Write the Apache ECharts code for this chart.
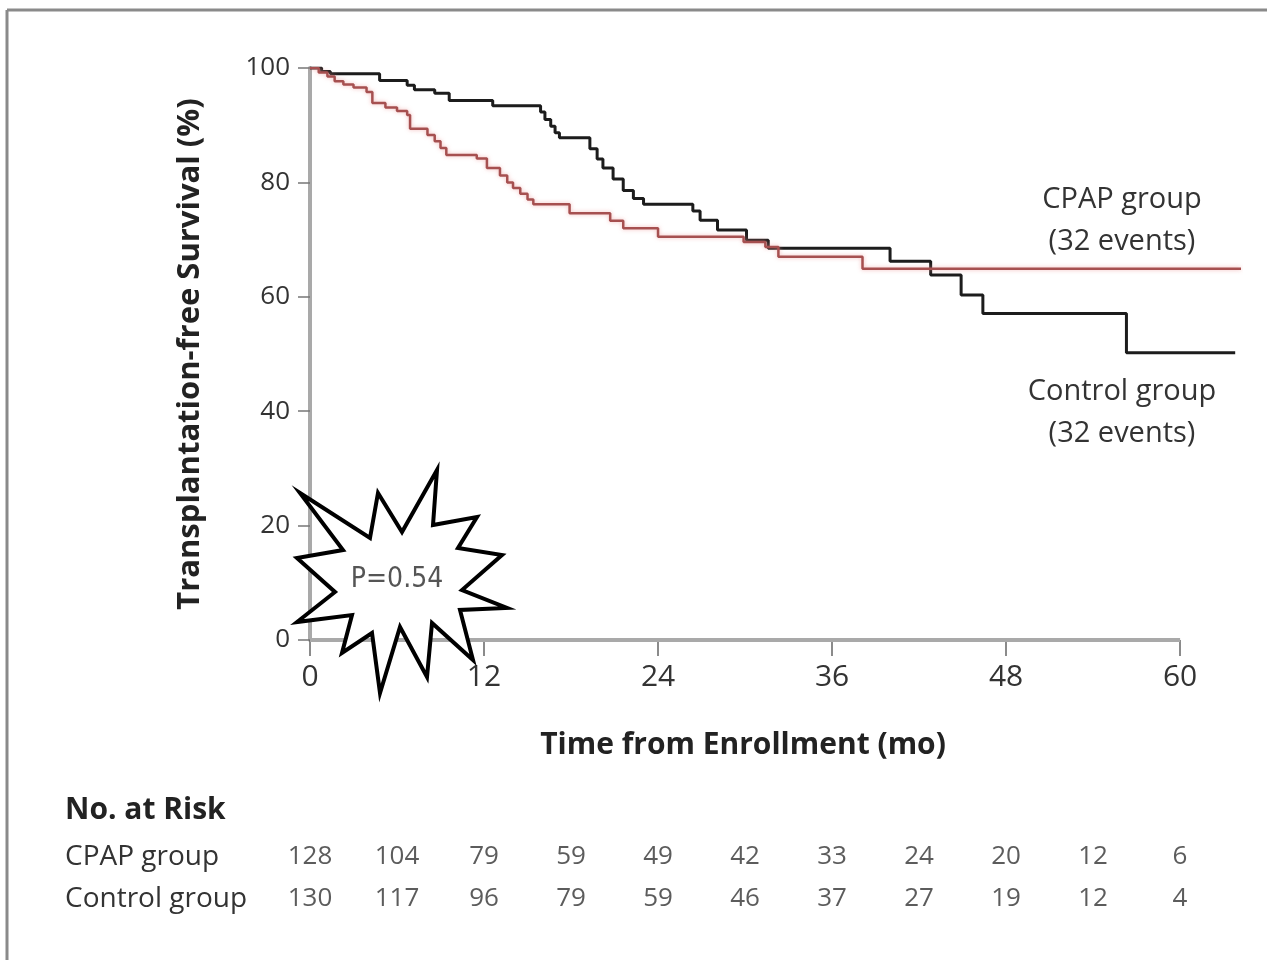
<!DOCTYPE html>
<html>
<head>
<meta charset="utf-8">
<script src="https://cdn.jsdelivr.net/npm/echarts@6/dist/echarts.min.js"></script>
<style>
html,body{margin:0;padding:0;background:#fff;}
#chart{width:1267px;height:960px;}
</style>
</head>
<body>
<div id="chart"></div>
<script>
// ---- data ----
const xTickValues = [0, 12, 24, 36, 48, 60];
const riskMonths = [0, 6, 12, 18, 24, 30, 36, 42, 48, 54, 60];
const riskGroups = ['Control group', 'CPAP group'];
const cpapAtRisk = [128, 104, 79, 59, 49, 42, 33, 24, 20, 12, 6];
const controlAtRisk = [130, 117, 96, 79, 59, 46, 37, 27, 19, 12, 4];

// Kaplan-Meier curves: [month, survival %]
const controlCurve = [
  [0, 100], [0.8, 99.4], [1.4, 99.0], [4.8, 97.8], [6.7, 97.0], [7.2, 96.2], [8.6, 95.6],
  [9.6, 94.3], [12.6, 93.4], [15.9, 92.3], [16.2, 91.0], [16.6, 89.8], [16.9, 88.7],
  [17.2, 87.8], [19.3, 85.9], [19.8, 84.1], [20.2, 82.5], [20.9, 80.6], [21.6, 78.6],
  [22.3, 77.2], [23.0, 76.2], [26.4, 75.0], [26.9, 73.4], [28.1, 71.7], [30.1, 69.9],
  [31.6, 68.5], [40.0, 66.2], [42.8, 63.8], [44.9, 60.3], [46.4, 57.1], [56.3, 50.2],
  [63.8, 50.2]
];
const cpapCurve = [
  [0, 100], [0.6, 99.2], [1.2, 98.5], [1.7, 97.7], [2.3, 97.1], [3.0, 96.6], [3.9, 95.8],
  [4.3, 93.9], [5.2, 93.1], [6.0, 92.5], [6.7, 91.8], [6.9, 89.4], [8.1, 88.3], [8.6, 87.2],
  [9.0, 86.0], [9.4, 84.8], [11.5, 84.2], [12.2, 82.5], [13.1, 81.2], [13.6, 80.0],
  [14.0, 79.0], [14.5, 78.0], [15.0, 77.0], [15.4, 76.2], [17.9, 74.6], [20.7, 73.3],
  [21.6, 72.0], [24.0, 70.5], [29.9, 69.6], [31.4, 68.7], [32.3, 67.0], [38.1, 64.9],
  [64.2, 64.9]
];

// ---- chart ----
const chart = echarts.init(document.getElementById('chart'));
const txt = '#333';
const axisGray = '#a9a9a9';
const font = '"Open Sans", "Noto Sans", sans-serif';

const riskData = [];
riskMonths.forEach((m, i) => {
  riskData.push([m, 'CPAP group', cpapAtRisk[i]]);
  riskData.push([m, 'Control group', controlAtRisk[i]]);
});

const starPts = [
  [300,493],[370,538],[378,493],[402,532],[437,470],[433,525],[477,517],[458,548],
  [502,555],[462,590],[507,608],[460,610],[473,660],[432,623],[427,677],[400,627],
  [380,693],[372,633],[342,653],[352,615],[297,622],[335,592],[297,558],[343,550]
];

chart.setOption({
  backgroundColor: '#fff',
  animation: false,
  grid: [
    { left: 310, right: 26, top: 68, bottom: 320 },
    { left: 310, right: 87, top: 836, height: 84 }
  ],
  xAxis: [
    {
      gridIndex: 0, type: 'value', min: 0, max: 64.2,
      splitLine: { show: false },
      axisLine: { show: false },
      axisTick: { show: true, customValues: xTickValues, length: 16, lineStyle: { color: '#666', width: 1.5 } },
      axisLabel: { customValues: xTickValues, margin: 22, color: txt, fontSize: 30, fontFamily: font }
    },
    {
      gridIndex: 1, type: 'value', min: 0, max: 60, show: false
    }
  ],
  yAxis: [
    {
      gridIndex: 0, type: 'value', min: 0, max: 100, interval: 20,
      splitLine: { show: false },
      axisLine: { show: true, lineStyle: { color: axisGray, width: 4 } },
      axisTick: { show: true, length: 12, lineStyle: { color: '#777', width: 1.5 } },
      axisLabel: { margin: 20, color: txt, fontSize: 26, fontFamily: font }
    },
    {
      gridIndex: 1, type: 'category', data: riskGroups,
      axisLine: { show: false }, axisTick: { show: false }, splitLine: { show: false },
      axisLabel: { margin: 245, align: 'left', color: txt, fontSize: 28, fontFamily: font }
    }
  ],
  series: [
    {
      name: 'Control group', type: 'line', step: 'end', data: controlCurve,
      xAxisIndex: 0, yAxisIndex: 0, showSymbol: false, z: 3,
      lineStyle: { color: '#1c1c1c', width: 3 },
      markLine: {
        silent: true, symbol: ['none', 'none'], z: 1,
        label: { show: false },
        lineStyle: { color: axisGray, width: 4, type: 'solid' },
        data: [[{ coord: [xTickValues[0], 0] }, { coord: [xTickValues[xTickValues.length - 1], 0] }]]
      }
    },
    {
      name: 'CPAP group', type: 'line', step: 'end', data: cpapCurve,
      xAxisIndex: 0, yAxisIndex: 0, showSymbol: false, z: 4,
      lineStyle: { color: '#a65050', width: 2.5, shadowColor: 'rgba(235,140,140,0.6)', shadowBlur: 4 }
    },
    {
      name: 'No. at Risk', type: 'scatter', xAxisIndex: 1, yAxisIndex: 1,
      data: riskData, symbolSize: 1, itemStyle: { color: 'rgba(0,0,0,0)' },
      label: {
        show: true, position: 'inside', color: txt, fontSize: 26, fontFamily: font,
        formatter: p => String(p.value[2])
      }
    }
  ],
  graphic: [
    { type: 'line', shape: { x1: 7, y1: 10, x2: 1267, y2: 10 }, style: { stroke: '#8a8a8a', lineWidth: 3 }, z: 10 },
    { type: 'line', shape: { x1: 7, y1: 10, x2: 7, y2: 960 }, style: { stroke: '#8a8a8a', lineWidth: 3 }, z: 10 },
    { type: 'text', x: 190, y: 354, rotation: Math.PI / 2,
      style: { text: 'Transplantation-free Survival (%)', fill: '#222', font: 'bold 31px ' + font, textAlign: 'center', textVerticalAlign: 'middle' } },
    { type: 'text', x: 743, y: 745,
      style: { text: 'Time from Enrollment (mo)', fill: '#222', font: 'bold 30px ' + font, textAlign: 'center', textVerticalAlign: 'middle' } },
    { type: 'text', x: 65, y: 810,
      style: { text: 'No. at Risk', fill: '#222', font: 'bold 30px ' + font, textAlign: 'left', textVerticalAlign: 'middle' } },
    { type: 'text', x: 1122, y: 221,
      style: { text: 'CPAP group\n(32 events)', fill: txt, font: '29px ' + font, lineHeight: 42, textAlign: 'center', textVerticalAlign: 'middle' } },
    { type: 'text', x: 1122, y: 413,
      style: { text: 'Control group\n(32 events)', fill: txt, font: '29px ' + font, lineHeight: 42, textAlign: 'center', textVerticalAlign: 'middle' } },
    { type: 'polygon', shape: { points: starPts }, style: { fill: '#fff', stroke: '#000', lineWidth: 4, lineJoin: 'miter' }, z: 20 },
    { type: 'text', x: 397, y: 580, z: 21,
      style: { text: 'P=0.54', fill: '#555', font: '28px "DejaVu Sans Condensed", "DejaVu Sans", sans-serif', textAlign: 'center', textVerticalAlign: 'middle' } }
  ]
});
</script>
</body>
</html>
